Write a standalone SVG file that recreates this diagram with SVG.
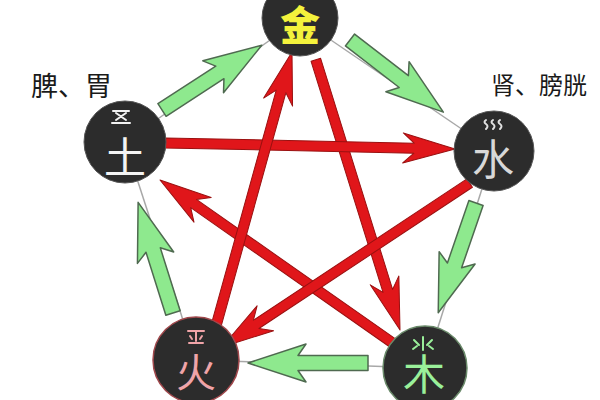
<svg xmlns="http://www.w3.org/2000/svg" width="600" height="400" viewBox="0 0 600 400">
<style>
.bg{fill:#ffffff}
.edge{stroke:#a8a8a8;stroke-width:1.5;fill:none}
.green{fill:#8ee98e;stroke:#4f6a50;stroke-width:1.5;stroke-linejoin:round}
.red{fill:#e0161a;stroke:#9a1010;stroke-width:1;stroke-linejoin:round}
.node{fill:#2c2c2c}
.ch{font-family:"Noto Sans CJK SC","Noto Sans",sans-serif;text-anchor:middle;dominant-baseline:central}
.label{font-family:"Noto Sans CJK SC","Noto Sans",sans-serif;fill:#1a1a1a}
.deco{fill:none;stroke-width:2;stroke-linecap:round}
</style>
<rect class="bg" x="0" y="0" width="600" height="400"/>
<g id="connectors">
  <g id="cycle-lines">
    <line class="edge" x1="300" y1="19" x2="494" y2="151"/>
    <line class="edge" x1="494" y1="151" x2="425" y2="368"/>
    <line class="edge" x1="425" y1="368" x2="196" y2="360"/>
    <line class="edge" x1="196" y1="360" x2="125" y2="142"/>
    <line class="edge" x1="125" y1="142" x2="300" y2="19"/>
  </g>
  <g id="generating-arrows">
    <path class="green" transform="translate(162,110) rotate(-33)" d="M0,-7.5 H69 L61,-19 L119,0 L61,19 L69,7.5 H0 Z"/>
    <path class="green" transform="translate(350,40) rotate(37.7)" d="M0,-7.5 H68 L60,-19 L118,0 L60,19 L68,7.5 H0 Z"/>
    <path class="green" transform="translate(476,203) rotate(109)" d="M0,-7.5 H66 L58,-19 L116,0 L58,19 L66,7.5 H0 Z"/>
    <path class="green" transform="translate(368,363) rotate(180)" d="M0,-7.5 H70 L62,-19 L120,0 L62,19 L70,7.5 H0 Z"/>
    <path class="green" transform="translate(173,313) rotate(-107.5)" d="M0,-7.5 H66 L58,-19 L116,0 L58,19 L66,7.5 H0 Z"/>
  </g>
  <g id="controlling-arrows">
    <path class="red" transform="translate(400,330) rotate(72.7)" d="M0,0 L-52,-15 L-41,-5 L-283,-5 L-283,5 L-41,5 L-52,15 Z"/>
    <path class="red" transform="translate(160,180) rotate(215)" d="M0,0 L-52,-15 L-41,-5 L-284,-5 L-284,5 L-41,5 L-52,15 Z"/>
    <path class="red" transform="translate(455,149) rotate(1.2)" d="M0,0 L-52,-15 L-41,-5 L-290,-5 L-290,5 L-41,5 L-52,15 Z"/>
    <path class="red" transform="translate(222,347) rotate(146.5)" d="M0,0 L-52,-15 L-41,-5 L-297,-5 L-297,5 L-41,5 L-52,15 Z"/>
    <path class="red" transform="translate(292,52) rotate(-74.5)" d="M0,0 L-52,-15 L-41,-5 L-288,-5 L-288,5 L-41,5 L-52,15 Z"/>
  </g>
</g>
<g id="node-metal">
  <circle class="node" cx="300" cy="18" r="38" stroke="#555" stroke-width="1"/>
  <text class="ch" x="300" y="23" font-size="40" font-weight="900" fill="#f4f23c">金</text>
</g>
<g id="node-earth">
  <circle class="node" cx="125" cy="142" r="41" stroke="#555" stroke-width="1"/>
  <path class="deco" stroke="#f2f2f2" d="M113,111 H129 M116,113 L126,120 M126,113 L116,120 M112,123 H130"/>
  <text class="ch" x="125" y="154" font-size="42" fill="#f4f4f4">土</text>
</g>
<g id="node-water">
  <circle class="node" cx="494" cy="151" r="40" stroke="#555" stroke-width="1"/>
  <path class="deco" stroke="#e0e0e0" stroke-width="1.6" d="M486,120 q-3,2 0,4 q3,2 0,5 M493,120 q-3,2 0,4 q3,2 0,5 M500,120 q-3,2 0,4 q3,2 0,5"/>
  <text class="ch" x="493" y="156" font-size="42" fill="#d8d8d8">水</text>
</g>
<g id="node-fire">
  <circle class="node" cx="196" cy="360" r="43" stroke="#a0484c" stroke-width="1.5"/>
  <path class="deco" stroke="#f0a4a8" d="M188,331 H204 M196,331 V341 M190,336 L192,339 M202,336 L200,339 M189,343 H203"/>
  <text class="ch" x="196" y="370" font-size="40" fill="#f0a4a8">火</text>
</g>
<g id="node-wood">
  <circle class="node" cx="425" cy="368" r="42" stroke="#6a8a6a" stroke-width="1.5"/>
  <path class="deco" stroke="#9af09a" d="M423,337 V350 M414,340 L419,345 M432,340 L427,345 M413,349 L417,346 M433,349 L429,346"/>
  <text class="ch" x="424" y="371" font-size="42" fill="#9af09a">木</text>
</g>
<g id="label-earth">
  <text class="label" x="31" y="96" font-size="27">脾、胃</text>
</g>
<g id="label-water">
  <text class="label" x="491" y="94" font-size="24">肾、膀胱</text>
</g>
</svg>
